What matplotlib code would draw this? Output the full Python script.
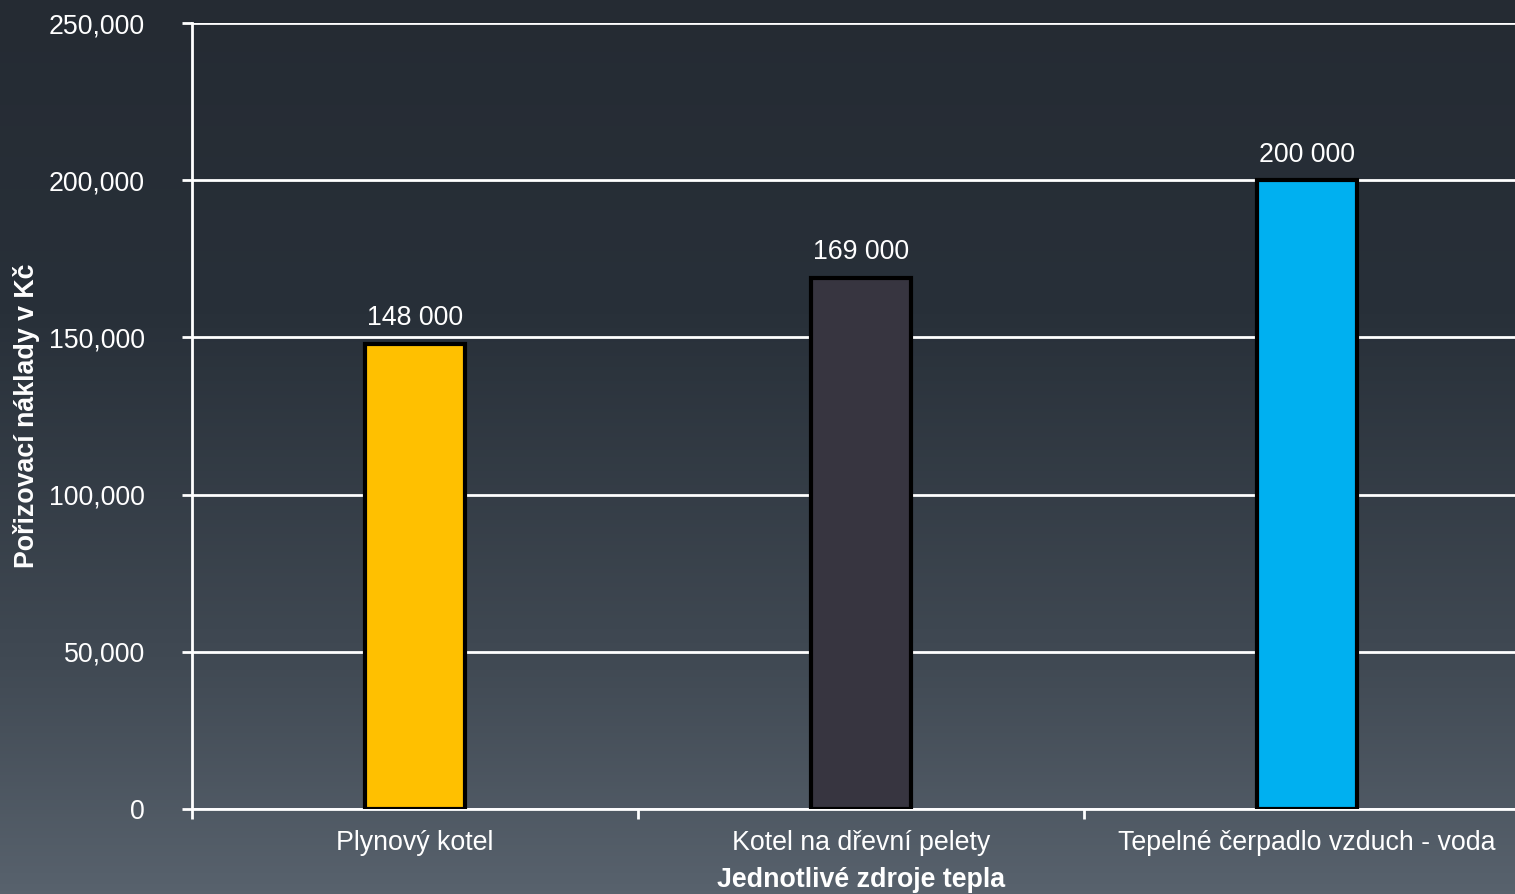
import numpy as np
import matplotlib.pyplot as plt
from matplotlib.colors import LinearSegmentedColormap

plt.rcParams['font.family'] = ['Liberation Sans', 'DejaVu Sans']

# data
categories = ['Plynový kotel', 'Kotel na dřevní pelety', 'Tepelné čerpadlo vzduch - voda']
values = [148000, 169000, 200000]
value_labels = ['148 000', '169 000', '200 000']
bar_colors = ['#FFC000', '#373540', '#00B0F0']
yticks = [0, 50000, 100000, 150000, 200000, 250000]

W, H = 1515, 894
fs = 19.3
fig = plt.figure(figsize=(W / 100, H / 100), dpi=100)

# background gradient
bg = fig.add_axes([0, 0, 1, 1], zorder=-10)
cmap = LinearSegmentedColormap.from_list(
    'bg', [(0, '#252b33'), (0.35, '#283039'), (0.75, '#414a54'), (1, '#58626d')])
grad = np.linspace(0, 1, 256).reshape(-1, 1)
bg.imshow(grad, aspect='auto', cmap=cmap, extent=[0, 1, 1, 0])
bg.set_axis_off()

ax = fig.add_axes([192 / W, 1 - 809 / H, 1338 / W, (809 - 23) / H])
ax.patch.set_alpha(0)

x = np.arange(len(categories))
ax.bar(x, values, width=0.225, color=bar_colors, edgecolor='black', linewidth=3, zorder=3)
for xi, v, lab in zip(x, values, value_labels):
    ax.annotate(lab, (xi, v), xytext=(0, 9), textcoords='offset points',
                ha='center', va='bottom', color='white', fontsize=fs)

ax.set_xlim(-0.5, 2.5)
ax.set_ylim(0, 250000)
ax.set_yticks(yticks)
ax.set_yticklabels([f'{t:,}' for t in yticks])
ax.yaxis.grid(True, color='white', linewidth=2)
ax.set_axisbelow(True)

ax.set_xticks(x)
ax.set_xticklabels(categories)
ax.set_xticks([-0.5, 0.5, 1.5, 2.5], minor=True)
ax.tick_params(axis='x', which='major', length=0, pad=15, labelsize=fs, colors='white')
ax.tick_params(axis='x', which='minor', length=7, width=2, color='white', direction='out')
ax.tick_params(axis='y', length=7, width=2, color='white', pad=27, labelsize=fs, labelcolor='white')

for s in ['top', 'right']:
    ax.spines[s].set_visible(False)
for s in ['left', 'bottom']:
    ax.spines[s].set_color('white')
    ax.spines[s].set_linewidth(2)

fig.text(27 / W, 1 - 416 / H, 'Pořizovací náklady v Kč', color='white', fontsize=fs,
         fontweight='bold', rotation=90, ha='center', va='center')
ax.set_xlabel('Jednotlivé zdroje tepla', color='white', fontsize=fs, fontweight='bold', labelpad=8)

fig.savefig('out.png', dpi=100)
